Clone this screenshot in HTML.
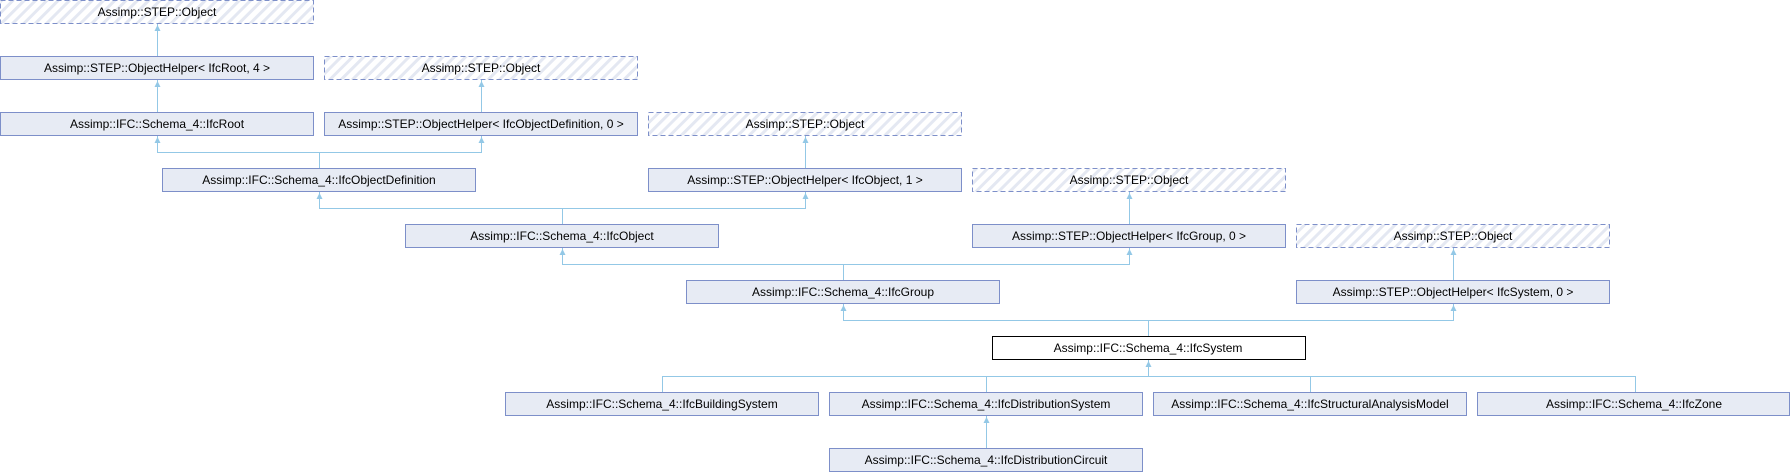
<!DOCTYPE html>
<html><head><meta charset="utf-8"><style>
html,body{margin:0;padding:0;background:#fff;width:1790px;height:472px;overflow:hidden}
svg{display:block}
text{font-family:"Liberation Sans",Arial,sans-serif;font-size:12px;fill:#000;text-anchor:middle}
.b{fill:#e7ebf4;stroke:#7d8fc9;stroke-width:1}
.d{fill:url(#h);stroke:#7d8fc9;stroke-width:1;stroke-dasharray:5,3}
.w{fill:#fff;stroke:#000;stroke-width:1}
.l{stroke:#93c8e6;stroke-width:1;fill:none}
.a{fill:#93c8e6}
</style></head><body>
<svg width="1790" height="472" viewBox="0 0 1790 472" xmlns="http://www.w3.org/2000/svg">
<defs><pattern id="h" width="8" height="8" patternUnits="userSpaceOnUse" patternTransform="rotate(45)"><rect width="8" height="8" fill="#fff"/><rect width="3" height="8" fill="#e4e8f2"/></pattern></defs>
<g>
<path class="l" d="M157.5 24V56M157.5 80V112M481.5 80V112M157.5 136V152.5H481.5V136M319.5 152V168M805.5 136V168M319.5 192V208.5H805.5V192M562.5 208V224M1129.5 192V224M562.5 248V264.5H1129.5V248M843.5 264V280M1453.5 248V280M843.5 304V320.5H1453.5V304M1148.5 320V336M1148.5 360V376.5M662.5 392V376.5H1635.5V392M986.5 376V392M1310.5 376V392M986.5 416V448"/>
<g class="a">
<polygon points="157.5,25 154.5,31 160.5,31"/>
<polygon points="157.5,81 154.5,87 160.5,87"/>
<polygon points="481.5,81 478.5,87 484.5,87"/>
<polygon points="157.5,137 154.5,143 160.5,143"/>
<polygon points="481.5,137 478.5,143 484.5,143"/>
<polygon points="805.5,137 802.5,143 808.5,143"/>
<polygon points="319.5,193 316.5,199 322.5,199"/>
<polygon points="805.5,193 802.5,199 808.5,199"/>
<polygon points="1129.5,193 1126.5,199 1132.5,199"/>
<polygon points="562.5,249 559.5,255 565.5,255"/>
<polygon points="1129.5,249 1126.5,255 1132.5,255"/>
<polygon points="1453.5,249 1450.5,255 1456.5,255"/>
<polygon points="843.5,305 840.5,311 846.5,311"/>
<polygon points="1453.5,305 1450.5,311 1456.5,311"/>
<polygon points="1148.5,361 1145.5,367 1151.5,367"/>
<polygon points="986.5,417 983.5,423 989.5,423"/>
</g>
</g>
<rect class="d" x="0.5" y="0.5" width="313" height="23"/><text x="157" y="16">Assimp::STEP::Object</text>
<rect class="b" x="0.5" y="56.5" width="313" height="23"/><text x="157" y="72">Assimp::STEP::ObjectHelper&lt; IfcRoot, 4 &gt;</text>
<rect class="d" x="324.5" y="56.5" width="313" height="23"/><text x="481" y="72">Assimp::STEP::Object</text>
<rect class="b" x="0.5" y="112.5" width="313" height="23"/><text x="157" y="128">Assimp::IFC::Schema_4::IfcRoot</text>
<rect class="b" x="324.5" y="112.5" width="313" height="23"/><text x="481" y="128">Assimp::STEP::ObjectHelper&lt; IfcObjectDefinition, 0 &gt;</text>
<rect class="d" x="648.5" y="112.5" width="313" height="23"/><text x="805" y="128">Assimp::STEP::Object</text>
<rect class="b" x="162.5" y="168.5" width="313" height="23"/><text x="319" y="184">Assimp::IFC::Schema_4::IfcObjectDefinition</text>
<rect class="b" x="648.5" y="168.5" width="313" height="23"/><text x="805" y="184">Assimp::STEP::ObjectHelper&lt; IfcObject, 1 &gt;</text>
<rect class="d" x="972.5" y="168.5" width="313" height="23"/><text x="1129" y="184">Assimp::STEP::Object</text>
<rect class="b" x="405.5" y="224.5" width="313" height="23"/><text x="562" y="240">Assimp::IFC::Schema_4::IfcObject</text>
<rect class="b" x="972.5" y="224.5" width="313" height="23"/><text x="1129" y="240">Assimp::STEP::ObjectHelper&lt; IfcGroup, 0 &gt;</text>
<rect class="d" x="1296.5" y="224.5" width="313" height="23"/><text x="1453" y="240">Assimp::STEP::Object</text>
<rect class="b" x="686.5" y="280.5" width="313" height="23"/><text x="843" y="296">Assimp::IFC::Schema_4::IfcGroup</text>
<rect class="b" x="1296.5" y="280.5" width="313" height="23"/><text x="1453" y="296">Assimp::STEP::ObjectHelper&lt; IfcSystem, 0 &gt;</text>
<rect class="w" x="992.5" y="336.5" width="313" height="23"/><text x="1148" y="352">Assimp::IFC::Schema_4::IfcSystem</text>
<rect class="b" x="505.5" y="392.5" width="313" height="23"/><text x="662" y="408">Assimp::IFC::Schema_4::IfcBuildingSystem</text>
<rect class="b" x="829.5" y="392.5" width="313" height="23"/><text x="986" y="408">Assimp::IFC::Schema_4::IfcDistributionSystem</text>
<rect class="b" x="1153.5" y="392.5" width="313" height="23"/><text x="1310" y="408">Assimp::IFC::Schema_4::IfcStructuralAnalysisModel</text>
<rect class="b" x="1477.5" y="392.5" width="312" height="23"/><text x="1634" y="408">Assimp::IFC::Schema_4::IfcZone</text>
<rect class="b" x="829.5" y="448.5" width="313" height="23"/><text x="986" y="464">Assimp::IFC::Schema_4::IfcDistributionCircuit</text>
</svg>
</body></html>
